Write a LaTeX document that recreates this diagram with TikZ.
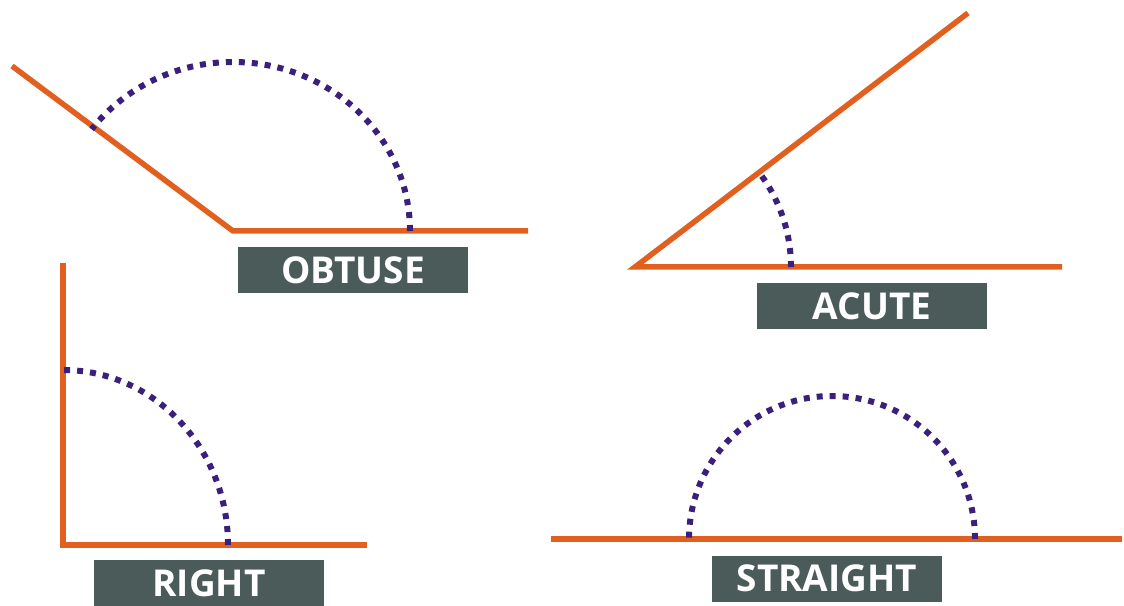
\documentclass[tikz,border=0pt]{standalone}
\usepackage{fontspec}
\setmainfont{Open Sans}
\definecolor{ray}{HTML}{E2601F}
\definecolor{dotc}{HTML}{3A1F7C}
\definecolor{tag}{HTML}{4B5B5A}
\begin{document}
\begin{tikzpicture}[x=1pt,y=1pt,
  rayline/.style={draw=ray,line width=5.5pt,line join=miter,line cap=butt},
  arcline/.style={draw=dotc,line width=6pt,dash pattern=on 6pt off 7pt,line cap=butt},
  tagbox/.style={fill=tag,text=white,minimum width=230pt,minimum height=46pt,inner sep=0pt,
    font=\fontsize{37}{37}\selectfont\bfseries,text depth=0pt}]
\useasboundingbox (0,0) rectangle (1124,605);
% OBTUSE
\coordinate (ov) at (233,374);
\coordinate (oa) at (12,539);
\coordinate (ob) at (528,374);
\draw[rayline] (oa) -- (ov) -- (ob);
\draw[arcline] (ov) ++(0:177) arc[start angle=0,end angle=143,x radius=177,y radius=169];
\node[tagbox] (tobtuse) at (353,335) {OBTUSE};
% ACUTE
\coordinate (av) at (635,338);
\coordinate (aa) at (968,592);
\coordinate (ab) at (1062,338);
\draw[rayline] (aa) -- (av) -- (ab);
\draw[arcline] (av) ++(0:156) arc[start angle=0,end angle=37.3,radius=156];
\node[tagbox] (tacute) at (872,299) {ACUTE};
% RIGHT
\coordinate (rv) at (63,60);
\coordinate (ra) at (63,342);
\coordinate (rb) at (367,60);
\draw[rayline] (ra) -- (rv) -- (rb);
\draw[arcline] (rv) ++(165,0) arc[start angle=0,end angle=90,x radius=165,y radius=175];
\node[tagbox] (tright) at (209,22) {RIGHT};
% STRAIGHT
\coordinate (sv) at (832,66);
\coordinate (sa) at (551,66);
\coordinate (sb) at (1122,66);
\draw[rayline] (sa) -- (sv) -- (sb);
\draw[arcline] (sv) ++(143,0) arc[start angle=0,end angle=180,radius=143];
\node[tagbox] (tstraight) at (827,26.5) {STRAIGHT};
\end{tikzpicture}
\end{document}
